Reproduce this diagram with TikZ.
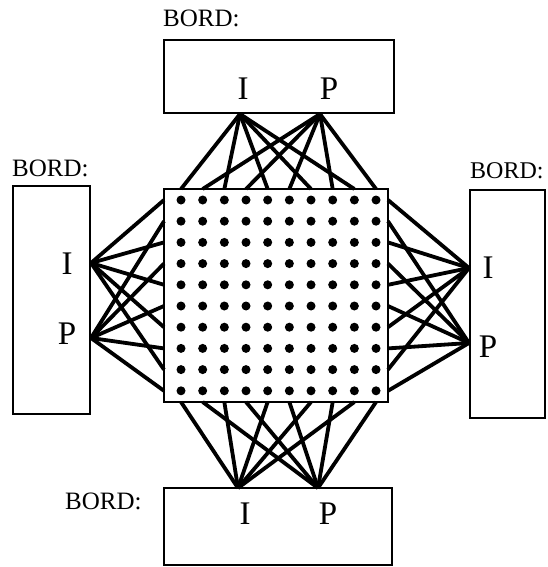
\documentclass[tikz,border=0pt]{standalone}
\usepackage{fontspec}
\setmainfont{Liberation Serif}
\begin{document}
\begin{tikzpicture}[x=1pt,y=-1pt,
  box/.style={draw,line width=2.8pt},
  wire/.style={line width=3.8pt},
  lbl/.style={font=\fontsize{25}{25}\selectfont,inner sep=0pt},
  pin/.style={font=\fontsize{33}{33}\selectfont,inner sep=0pt}]
\useasboundingbox (0,0) rectangle (547,567);
% boxes
\draw[box] (164,40) rectangle (394,113);
\draw[box] (13,186) rectangle (90,414);
\draw[box] (470,190) rectangle (545,418);
\draw[box] (164,488) rectangle (392,565);
\draw[box] (164,189) rectangle (388,402);
% labels
\node[lbl,anchor=base west] (bt) at (163,27) {BORD:};
\node[lbl,anchor=base west] (bl) at (12,176) {BORD:};
\node[lbl,anchor=base west,font=\fontsize{24}{24}\selectfont] (br) at (470,178) {BORD:};
\node[lbl,anchor=base west] (bb) at (65,509) {BORD:};
\node[pin] (tI) at (243,89) {I};
\node[pin] (tP) at (329,89) {P};
\node[pin] (lI) at (67,264) {I};
\node[pin] (lP) at (67,334) {P};
\node[pin] (rI) at (488,268) {I};
\node[pin] (rP) at (488,347) {P};
\node[pin] (bI) at (245,514) {I};
\node[pin] (bP) at (328,514) {P};
% pin coordinates
\coordinate (TI) at (240,114);
\coordinate (TP) at (320,114);
\coordinate (LI) at (91,263);
\coordinate (LP) at (91,338);
\coordinate (RI) at (469,268);
\coordinate (RP) at (469,343);
\coordinate (BI) at (238,488);
\coordinate (BP) at (318,488);
% grid dots and edge points
\foreach \i in {1,...,10}{
  \pgfmathsetmacro{\cx}{181+(\i-1)*21.67}
  \pgfmathsetmacro{\ry}{200+(\i-1)*21.2}
  \coordinate (t\i) at (\cx,189);
  \coordinate (b\i) at (\cx,402);
  \coordinate (l\i) at (164,\ry);
  \coordinate (r\i) at (388,\ry);
  \foreach \j in {1,...,10}{
    \pgfmathsetmacro{\dy}{200+(\j-1)*21.2}
    \coordinate (d\i-\j) at (\cx,\dy);
    \fill (d\i-\j) circle (4.5);
  }
}
% connectors
\foreach \k in {1,3,5,7,9}{
  \draw[wire] (TI) -- (t\k);
  \draw[wire] (BI) -- (b\k);
  \draw[wire] (LI) -- (l\k);
  \draw[wire] (RI) -- (r\k);
}
\foreach \k in {2,4,6,8,10}{
  \draw[wire] (TP) -- (t\k);
  \draw[wire] (BP) -- (b\k);
  \draw[wire] (LP) -- (l\k);
  \draw[wire] (RP) -- (r\k);
}
\end{tikzpicture}
\end{document}
